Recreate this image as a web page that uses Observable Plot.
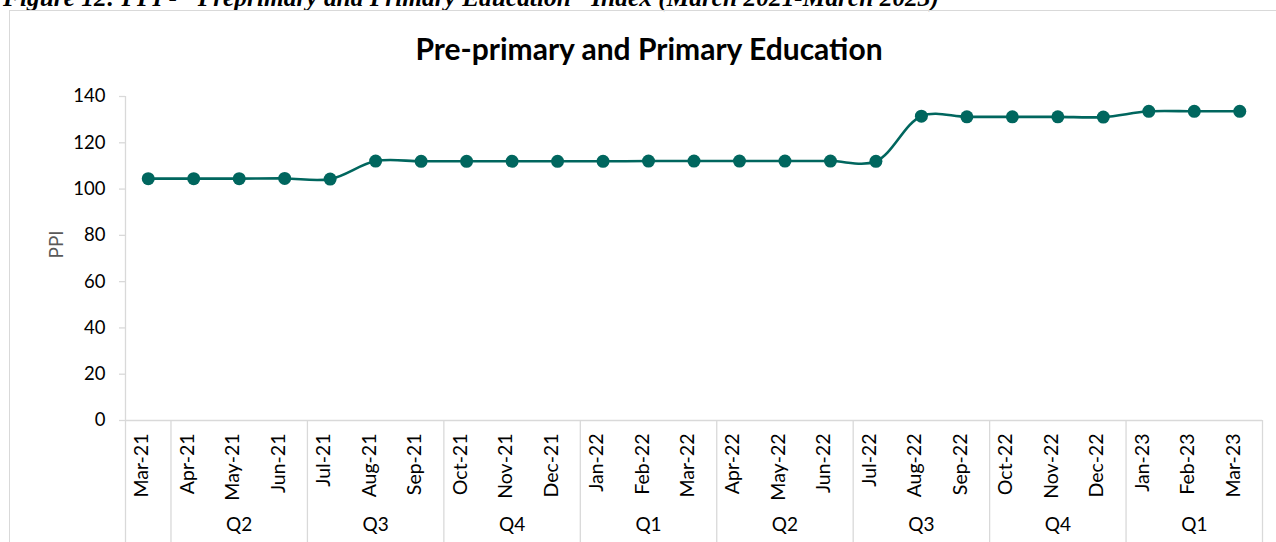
<!DOCTYPE html>
<html>
<head>
<meta charset="utf-8">
<script src="https://cdn.jsdelivr.net/npm/d3@7"></script>
<script src="https://cdn.jsdelivr.net/npm/@observablehq/plot@0.6"></script>
<style>
  html, body { margin: 0; padding: 0; background: #fff; width: 1276px; height: 542px; overflow: hidden; }
  #caption { position: absolute; left: 3px; top: -15.3px; font-family: "Liberation Serif", serif; font-weight: bold; font-style: italic; font-size: 25.4px; line-height: 1; white-space: nowrap; color: #000; }
  #box { position: absolute; left: 9px; top: 10px; width: 1300px; height: 600px; border: 1px solid #d9d9d9; box-sizing: border-box; }
  #title { position: absolute; left: 0; width: 1298px; top: 29px; text-align: center; font-family: Lato, "Open Sans", sans-serif; font-weight: bold; font-size: 30px; line-height: 38px; color: #000; }
  #chart { position: absolute; left: 0; top: 0; }
</style>
</head>
<body>
<div id="caption">Figure 12: PPI - "Preprimary and Primary Education" Index (March 2021-March 2023)</div>
<div id="box"></div>
<div id="title">Pre-primary and Primary Education</div>
<div id="chart"></div>
<script>
const months = ["Mar-21","Apr-21","May-21","Jun-21","Jul-21","Aug-21","Sep-21","Oct-21","Nov-21","Dec-21",
  "Jan-22","Feb-22","Mar-22","Apr-22","May-22","Jun-22","Jul-22","Aug-22","Sep-22","Oct-22","Nov-22","Dec-22",
  "Jan-23","Feb-23","Mar-23"];
const ppi = [104.5,104.5,104.5,104.6,104.3,112.1,112.0,112.0,112.0,112.0,
  112.0,112.1,112.1,112.1,112.1,112.1,112.0,131.5,131.2,131.2,131.2,131.1,
  133.6,133.6,133.6];
const quarters = ["", "Q2", "Q3", "Q4", "Q1", "Q2", "Q3", "Q4", "Q1"];
const quarterStart = [0, 1, 4, 7, 10, 13, 16, 19, 22];
const yTicks = [0, 20, 40, 60, 80, 100, 120, 140];
const yLabel = "PPI";

const data = months.map((m, i) => ({i, m, v: ppi[i]}));
const groups = quarters.map((q, k) => ({
  q,
  start: quarterStart[k],
  end: (k + 1 < quarterStart.length ? quarterStart[k + 1] : months.length) - 1
}));
const boundaries = quarterStart.map(s => s - 0.5).concat([months.length - 0.5]);

const teal = "#00665E";
const grid = "#d9d9d9";
const font = "Lato, 'Open Sans', sans-serif";

const chart = Plot.plot({
  width: 1276,
  height: 542,
  marginTop: 96,
  marginBottom: 122,
  marginLeft: 125,
  marginRight: 14,
  style: {fontFamily: font, background: "transparent", overflow: "visible"},
  x: {type: "linear", domain: [-0.5, months.length - 0.5], axis: null},
  y: {domain: [0, 140], axis: null},
  marks: [
    Plot.ruleX([-0.5], {y1: 0, y2: 140, stroke: grid, strokeWidth: 1.3}),
    Plot.ruleY(yTicks, {y: d => d, x1: -0.5, x2: -0.5, insetLeft: -6, stroke: grid, strokeWidth: 1.3}),
    Plot.text(yTicks, {y: d => d, x: -0.5, text: d => String(d), dx: -20, textAnchor: "end", fontSize: 18.5, fill: "#000"}),
    Plot.text([yLabel], {frameAnchor: "left", text: d => d, rotate: -90, dx: -69, fontSize: 19, fill: "#595959"}),
    Plot.ruleY([0], {x1: -0.5, x2: months.length - 0.5, stroke: grid, strokeWidth: 1.3}),
    Plot.ruleX(boundaries, {x: d => d, y1: 0, y2: 0, insetBottom: -130, stroke: grid, strokeWidth: 1.3}),
    Plot.text(data, {x: "i", text: "m", frameAnchor: "bottom", rotate: -90, textAnchor: "end", dy: 13, fontSize: 19.5, fill: "#000"}),
    Plot.text(groups.filter(g => g.q), {x: g => (g.start + g.end) / 2, text: "q", frameAnchor: "bottom", dy: 110, fontSize: 19, fill: "#000"}),
    Plot.line(data, {x: "i", y: "v", curve: "catmull-rom", stroke: teal, strokeWidth: 2.6}),
    Plot.dot(data, {x: "i", y: "v", r: 6.5, fill: teal, stroke: "none"})
  ]
});
document.getElementById("chart").appendChild(chart);
</script>
</body>
</html>
